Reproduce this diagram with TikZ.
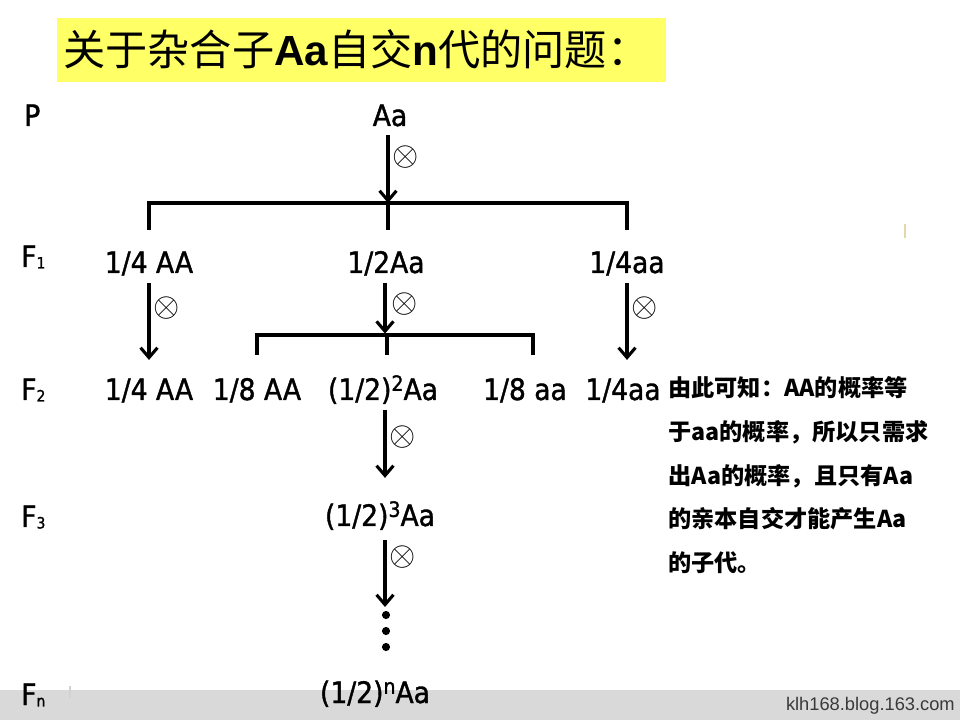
\documentclass[tikz,border=0pt]{standalone}
\usepackage{fix-cm}
\usepackage{fontspec}
\newfontfamily\labfont[FakeBold=1.3]{DejaVu Sans Condensed}
\newfontfamily\cjk{Noto Sans CJK SC}
\newfontfamily\arial{Liberation Sans}
\usetikzlibrary{arrows.meta,positioning,calc}
\definecolor{ttlbg}{HTML}{FFFF66}
\definecolor{barbg}{HTML}{D9D9D9}
\definecolor{urltxt}{HTML}{3A3A3A}
\definecolor{stray}{HTML}{E6D6AE}
\newcommand{\pw}[1]{\raisebox{6.5pt}{\fontsize{15}{15}\selectfont #1}}
\newcommand{\gsub}[1]{\raisebox{-1pt}{\fontsize{11}{11}\selectfont #1}}
\newcommand{\sx}{$\otimes$}

\tikzset{
  lab/.style={font=\labfont\fontsize{21}{21}\selectfont, inner sep=0pt, text height=16pt, text depth=3pt, anchor=base},
  gen/.style={font=\labfont\fontsize{21}{21}\selectfont, inner sep=0pt, anchor=base west},
  arr/.style={line width=2.2pt, -{Straight Barb[length=7pt,width=12pt]}, shorten <=4pt},
  brk/.style={line width=3.2pt},
  self/.style={font=\fontsize{24}{24}\selectfont, inner sep=0pt},
  note/.style={font=\cjk\bfseries\fontsize{16.5}{16.5}\selectfont, inner sep=0pt, anchor=base west},
}

\begin{document}
\begin{tikzpicture}[x=0.025cm,y=-0.025cm]
\useasboundingbox (0,0) rectangle (960,720);
\fill[white] (0,0) rectangle (960,720);

% title and footer
\fill[ttlbg] (57,18) rectangle (666,82);
\node[anchor=base west, inner sep=0pt, font=\cjk\fontsize{30}{30}\selectfont] (ttl) at (63,66)
  {关于杂合子{\arial\bfseries Aa}自交{\arial\bfseries n}代的问题：};
\fill[barbg] (0,690) rectangle (960,720);
\node[anchor=east, inner sep=0pt, font=\arial\fontsize{13}{13}\selectfont, text=urltxt] (url) at (955,706) {klh168.blog.163.com};
\draw[stray,line width=1pt] (905,224) -- (905,238);
\draw[gray!35,line width=1pt] (70,686) -- (70,698);

% generation labels
\node[gen] (lp) at (24,126) {P};
\node[gen] (lf1) at (21,267) {F\gsub{1}};
\node[gen] (lf2) at (21,400) {F\gsub{2}};
\node[gen] (lf3) at (21,527) {F\gsub{3}};
\node[gen] (lfn) at (21,705) {F\gsub{n}};

% genotypes
\node[lab] (nAa) at (390,126) {Aa};
\node[lab] (f1AA) at (149,273) {1/4 AA};
\node[lab] (f1Aa) at (386,273) {1/2Aa};
\node[lab] (f1aa) at (627,273) {1/4aa};
\node[lab] (f2AA) at (149,400) {1/4 AA};
\node[lab] (f2AAb) at (257,400) {1/8 AA};
\node[lab] (f2Aa) at (383,400) {(1/2)\pw{2}Aa};
\node[lab] (f2aab) at (525,400) {1/8 aa};
\node[lab] (f2aa) at (623,400) {1/4aa};
\node[lab] (f3Aa) at (380,526) {(1/2)\pw{3}Aa};
\node[lab] (fnAa) at (375,703) {(1/2)\pw{n}Aa};

\coordinate (col) at (385,0);
\coordinate (b1) at (388,203);
\coordinate (b2) at (387,335);
\coordinate (b2r) at (533,335);
\coordinate (dt) at (385,607);

% brackets
\draw[brk,shorten <=14.5pt,shorten >=14.5pt] (f1AA.north) |- (b1) -| (f1aa.north);
\draw[brk,shorten >=14.5pt] (b1) -- (b1 |- f1Aa.north);
\draw[brk,shorten <=15.9pt,shorten >=15.9pt] (f2AAb.north) |- (b2) -| (b2r |- f2aab.north);
\draw[brk,shorten >=15.9pt] (b2) -- (b2 |- f2Aa.north);

% selfing arrows
\draw[arr,shorten <=3.4pt] (nAa.south -| b1) -- (b1);
\draw[arr,shorten >=12.3pt] (f1AA.south) -- (f1AA.south |- f2AA.north);
\draw[arr,shorten >=1pt] (f1Aa.south -| col) -- (col |- b2);
\draw[arr,shorten >=12.3pt] (f1aa.south) -- (f1aa.south |- f2aa.north);
\draw[arr,shorten >=18pt] (f2Aa.south -| col) -- (f3Aa.north -| col);
\draw[arr,shorten <=7pt] (f3Aa.south -| col) -- (dt);

\node[self] (s1) at (406,157) {\sx};
\node[self] (s2) at (167,308) {\sx};
\node[self] (s3) at (405,304) {\sx};
\node[self] (s4) at (645,308) {\sx};
\node[self] (s5) at (403,437) {\sx};
\node[self] (s6) at (403,557) {\sx};

% dots
\foreach \y [count=\k] in {615,631,647}
  \fill (386,\y) circle[radius=2.9pt] coordinate (d\k);

% side note
\foreach \t [count=\i from 0] in {由此可知：AA的概率等, 于aa的概率，所以只需求, 出Aa的概率，且只有Aa, 的亲本自交才能产生Aa, 的子代。}
  \node[note] (note\i) at (668,{397+43.6*\i}) {\t};
\end{tikzpicture}
\end{document}
